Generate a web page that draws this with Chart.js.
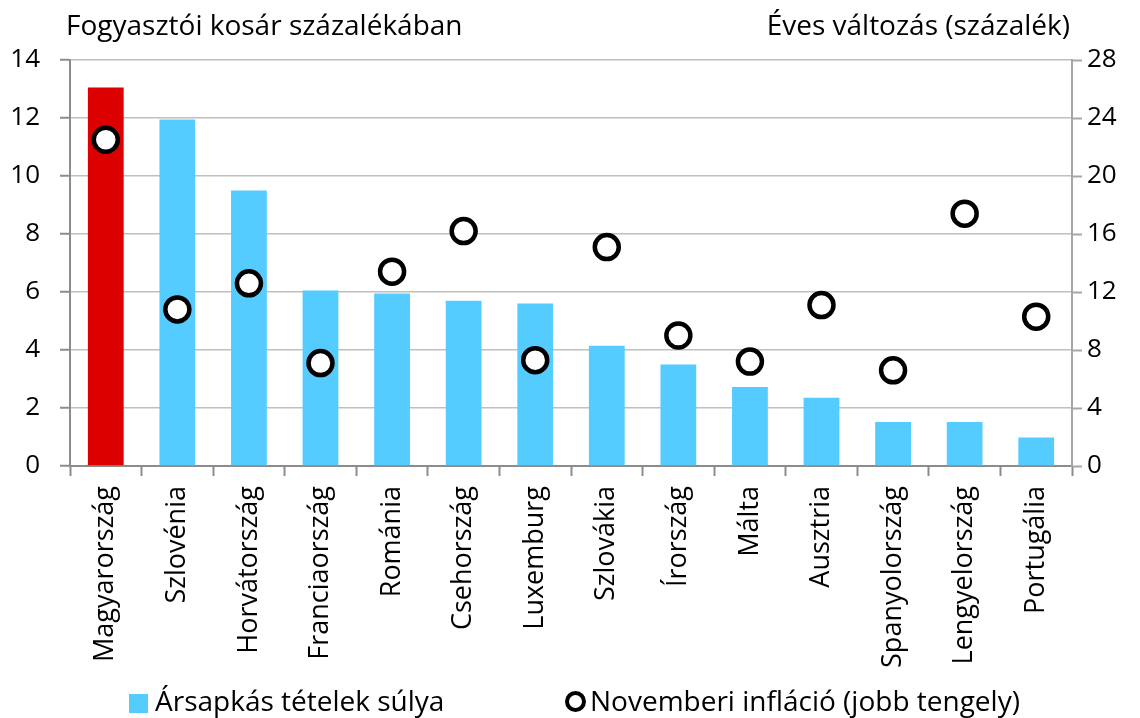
<!DOCTYPE html>
<html>
<head>
<meta charset="utf-8">
<script src="https://cdn.jsdelivr.net/npm/chart.js@4/dist/chart.umd.min.js"></script>
<style>
    body { margin: 0; background: #fff; }
    #wrap { position: relative; width: 1140px; height: 718px; font-family: "Open Sans", sans-serif; color: #000; }
    #chart { position: absolute; left: 0; top: 0; }
    .axis-title { position: absolute; top: 6px; font-size: 28px; line-height: 36px; white-space: nowrap; }
    #legend { position: absolute; top: 682px; left: 0; width: 1140px; font-size: 28px; white-space: nowrap; }
    .leg { position: absolute; top: 0; line-height: 36px; }
    .swatch { display: inline-block; width: 19px; height: 19px; background: #55ccff; margin-right: 7px; vertical-align: -2px; }
    .ring { display: inline-block; width: 13px; height: 13px; border: 4px solid #000; border-radius: 50%; background: #fff; margin-right: 4px; vertical-align: -1px; }
</style>
</head>
<body>
<div id="wrap">
    <canvas id="chart" width="1140" height="718"></canvas>
    <div class="axis-title" style="left:66px;">Fogyasztói kosár százalékában</div>
    <div class="axis-title" style="right:70px;">Éves változás (százalék)</div>
    <div id="legend">
        <div class="leg" style="left:129px;"><span class="swatch"></span>Ársapkás tételek súlya</div>
        <div class="leg" style="left:565px;"><span class="ring"></span>Novemberi infláció (jobb tengely)</div>
    </div>
</div>
<script>
    // ── Data ──
    var countries = ["Magyarország", "Szlovénia", "Horvátország", "Franciaország", "Románia",
        "Csehország", "Luxemburg", "Szlovákia", "Írország", "Málta", "Ausztria",
        "Spanyolország", "Lengyelország", "Portugália"];
    var capWeights = [13.05, 11.95, 9.5, 6.05, 5.95, 5.7, 5.6, 4.15, 3.5, 2.72, 2.35, 1.52, 1.52, 0.98];
    var novInflation = [22.5, 10.8, 12.6, 7.1, 13.4, 16.2, 7.3, 15.1, 9.0, 7.2, 11.1, 6.6, 17.4, 10.3];
    var leftTicks = [0, 2, 4, 6, 8, 10, 12, 14];
    var rightTicks = [0, 4, 8, 12, 16, 20, 24, 28];

    var barColors = countries.map(function (c, i) { return i === 0 ? "#dc0000" : "#55ccff"; });
    var tickFont = { family: "Open Sans", size: 26 };
    var labelFont = { family: "Open Sans", size: 27 };

    new Chart(document.getElementById("chart"), {
        type: "bar",
        data: {
            labels: countries,
            datasets: [
                {
                    type: "line",
                    label: "Novemberi infláció (jobb tengely)",
                    data: novInflation,
                    yAxisID: "y2",
                    showLine: false,
                    pointRadius: 12,
                    pointBorderWidth: 4.5,
                    pointBackgroundColor: "#fff",
                    pointBorderColor: "#000",
                    order: 0
                },
                {
                    label: "Ársapkás tételek súlya",
                    data: capWeights,
                    yAxisID: "y",
                    backgroundColor: barColors,
                    categoryPercentage: 1,
                    barPercentage: 0.5,
                    order: 1
                }
            ]
        },
        options: {
            responsive: false,
            animation: false,
            layout: { padding: { top: 60, left: 0, right: 0, bottom: 0 } },
            plugins: { legend: { display: false }, tooltip: { enabled: false } },
            scales: {
                x: {
                    afterFit: function (s) { s.height = 252; },
                    border: { color: "#8c8c8c", width: 2 },
                    grid: { offset: true, drawOnChartArea: false, tickLength: 10, tickColor: "#8c8c8c", tickWidth: 2 },
                    ticks: { minRotation: 90, maxRotation: 90, color: "#000", font: labelFont, padding: 10 }
                },
                y: {
                    position: "left",
                    min: 0, max: 14,
                    afterFit: function (s) { s.width = 70; },
                    afterBuildTicks: function (s) { s.ticks = leftTicks.map(function (v) { return { value: v }; }); },
                    border: { color: "#8c8c8c", width: 2 },
                    grid: { color: "#bfbfbf", lineWidth: 1.5, borderDash: [6, 4], tickLength: 10, tickColor: "#8c8c8c", tickBorderDash: [], tickWidth: 2 },
                    ticks: { color: "#000", font: tickFont, padding: 20 }
                },
                y2: {
                    position: "right",
                    min: 0, max: 28,
                    afterFit: function (s) { s.width = 68; },
                    afterBuildTicks: function (s) { s.ticks = rightTicks.map(function (v) { return { value: v }; }); },
                    border: { color: "#a6a6a6", width: 2 },
                    grid: { drawOnChartArea: false, tickLength: 10, tickColor: "#a6a6a6", tickWidth: 2 },
                    ticks: { color: "#000", font: tickFont, padding: 5 }
                }
            }
        }
    });
</script>
</body>
</html>
